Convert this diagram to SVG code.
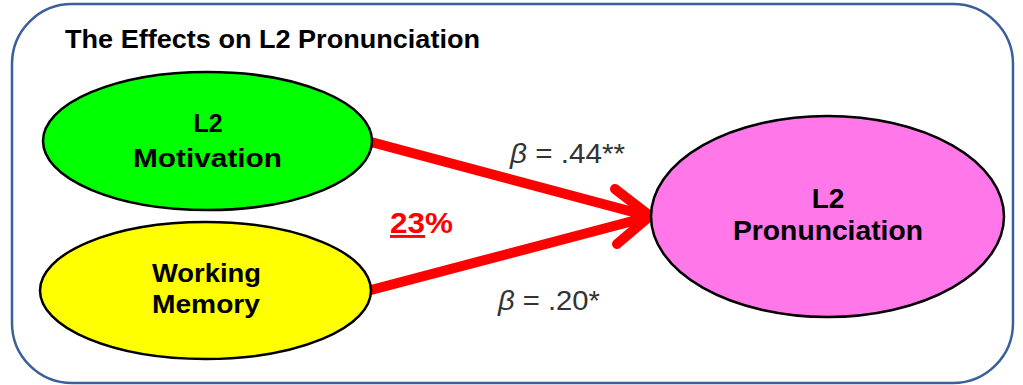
<svg xmlns="http://www.w3.org/2000/svg" width="1023" height="385" viewBox="0 0 1023 385">
<style>
.node{stroke:#000;stroke-width:2.5}
.lbl{font-family:"Liberation Sans",Arial,sans-serif;font-weight:bold;fill:#000;text-anchor:middle}
.beta{font-family:"Liberation Sans",Arial,sans-serif;fill:#333;font-size:27px}
.conn{stroke:#FF0000;stroke-width:10;stroke-linecap:round;stroke-linejoin:round;fill:none}
</style>
<rect x="12" y="4" width="1001" height="379" rx="60" ry="60" fill="#fff" stroke="#3A5F9A" stroke-width="2.5"/>
<text x="65" y="48" font-family="Liberation Sans,Arial,sans-serif" font-weight="bold" font-size="25" textLength="415" lengthAdjust="spacingAndGlyphs">The Effects on L2 Pronunciation</text>
<g id="connectors">
<path class="conn" d="M371,142 L648,216 M371,290 L648,217"/>
<path class="conn" d="M615,189 L650,216 L617,244"/>
</g>
<g id="motivation">
<ellipse class="node" cx="207.5" cy="141" rx="164.5" ry="69" fill="#00FF00"/>
<text class="lbl" x="208" y="132" font-size="25">L2</text>
<text class="lbl" x="133" y="167" font-size="25" textLength="149" lengthAdjust="spacingAndGlyphs" style="text-anchor:start">Motivation</text>
</g>
<g id="working">
<ellipse class="node" cx="205.5" cy="290.5" rx="165.5" ry="68.5" fill="#FFFF00"/>
<text class="lbl" x="152" y="282" font-size="26" textLength="109" lengthAdjust="spacingAndGlyphs" style="text-anchor:start">Working</text>
<text class="lbl" x="152" y="313" font-size="26" textLength="108" lengthAdjust="spacingAndGlyphs" style="text-anchor:start">Memory</text>
</g>
<g id="pronunciation">
<ellipse class="node" cx="827.5" cy="216.5" rx="176.5" ry="100.5" fill="#FF77E8"/>
<text class="lbl" x="828" y="208" font-size="28">L2</text>
<text class="lbl" x="733" y="240" font-size="28" textLength="190" lengthAdjust="spacingAndGlyphs" style="text-anchor:start">Pronunciation</text>
</g>
<text class="beta" x="510" y="163" textLength="115" lengthAdjust="spacingAndGlyphs"><tspan font-style="italic">β</tspan> = .44**</text>
<text class="beta" x="498" y="310" textLength="102" lengthAdjust="spacingAndGlyphs"><tspan font-style="italic">β</tspan> = .20*</text>
<text x="390" y="233" font-family="Liberation Sans,Arial,sans-serif" font-weight="bold" font-size="29" fill="#FF0000" textLength="63" lengthAdjust="spacingAndGlyphs"><tspan text-decoration="underline">23</tspan>%</text>
</svg>
